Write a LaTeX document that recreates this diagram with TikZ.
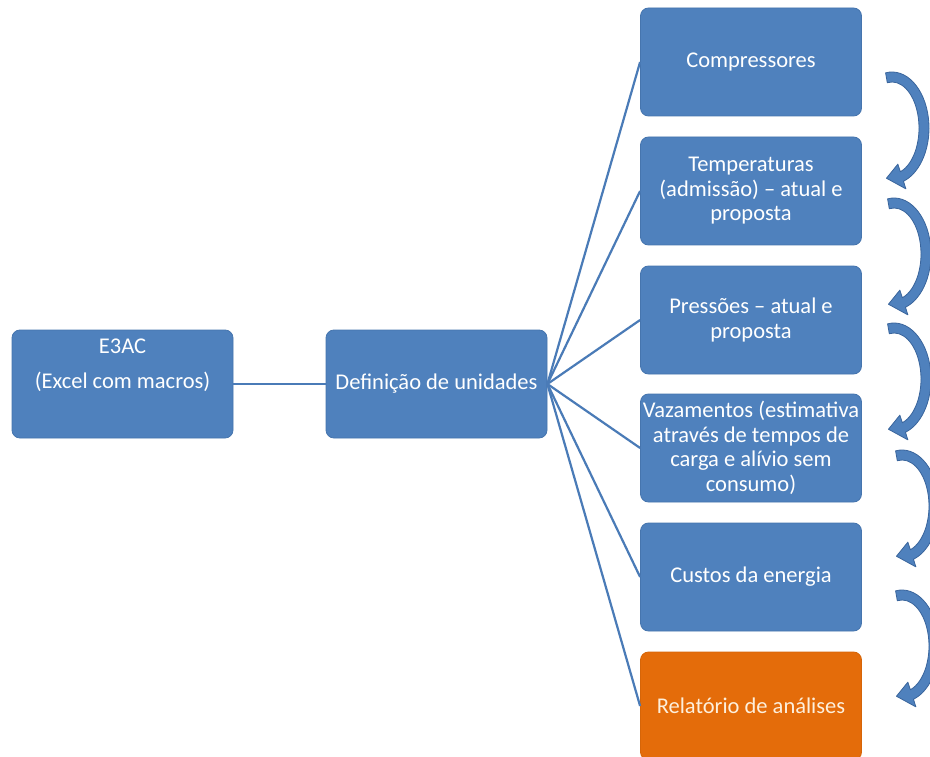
\documentclass[tikz,border=0pt]{standalone}
\usepackage{fontspec}
\setmainfont{Carlito}
\usetikzlibrary{arrows.meta}

\definecolor{boxblue}{HTML}{4F81BD}
\definecolor{boxedge}{HTML}{4675AE}
\definecolor{linkblue}{HTML}{4A7BB7}
\definecolor{arrowedge}{HTML}{3A659C}
\definecolor{reporange}{HTML}{E46C0A}
\definecolor{reportedge}{HTML}{D66508}
\definecolor{reporttext}{HTML}{FDEFDC}

\tikzset{
  stagebox/.style={rectangle, rounded corners=8pt, fill=boxblue, draw=boxedge,
    line width=0.8pt, minimum width=221pt, minimum height=108pt,
    align=center, text=white, inner sep=0pt,
    font=\fontsize{22.5}{24.5}\selectfont},
  reportbox/.style={stagebox, fill=reporange, draw=reportedge, text=reporttext},
  boxlabel/.style={align=center, text=white, inner sep=0pt,
    font=\fontsize{22.5}{24.5}\selectfont},
  link/.style={draw=linkblue, line width=2.2pt},
  turnarrow/.style={fill=boxblue, draw=arrowedge, line width=0.8pt, line join=round},
}

% curved block arrow turning clockwise from one stage to the next
\newcommand\cyclearrow[2]{%
  \begin{scope}[shift={(#1,#2)}]
    \filldraw[turnarrow] (-100:37 and 56)
      arc[start angle=-100, end angle=72, x radius=37, y radius=56]
      -- (72:45 and 64) -- (100:32 and 51) -- (72:19 and 38) -- (72:27 and 46)
      arc[start angle=72, end angle=-100, x radius=27, y radius=46] -- cycle;
  \end{scope}}

\begin{document}
\begin{tikzpicture}[x=1pt, y=-1pt]
  \useasboundingbox (0,0) rectangle (930,757);
  \clip (0,0) rectangle (930,757);
  \fill[white] (0,0) rectangle (930,757);

  % left part of the chain
  \node[stagebox] (e3ac) at (122.5,384) {};
  \node[boxlabel] (e3actext) at (122.5,365.5) {E3AC\\[10.5pt](Excel com macros)};
  \node[stagebox] (def) at (436.5,384) {Definição de unidades};

  % stages
  \node[stagebox] (comp) at (751,62) {Compressores};
  \node[stagebox] (temp) at (751,191) {Temperaturas\\(admissão) – atual e\\proposta};
  \node[stagebox] (pres) at (751,320) {Pressões – atual e\\proposta};
  \node[stagebox] (vaz) at (751,448) {Vazamentos (estimativa\\através de tempos de\\carga e alívio sem\\consumo)};
  \node[stagebox] (cust) at (751,577) {Custos da energia};
  \node[reportbox] (rel) at (751,706) {Relatório de análises};

  % connectors
  \draw[link] (e3ac.east) -- (def.west);
  \foreach \n in {comp,temp,pres,vaz,cust,rel}
    \draw[link] (def.east) -- (\n.west);

  % sequence arrows
  \cyclearrow{892}{128}
  \cyclearrow{894}{254}
  \cyclearrow{894}{379}
  \cyclearrow{902}{506}
  \cyclearrow{902}{646}
\end{tikzpicture}
\end{document}
